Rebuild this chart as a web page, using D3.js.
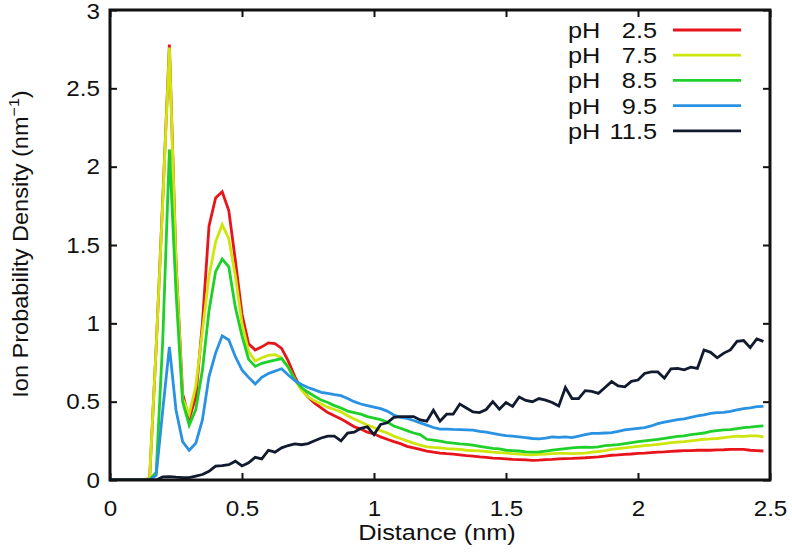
<!DOCTYPE html>
<html>
<head>
<meta charset="utf-8">
<script src="https://cdn.jsdelivr.net/npm/d3@7"></script>
<style>
  html, body { margin: 0; padding: 0; background: #fff; }
  svg { display: block; }
  text { font-family: "Liberation Sans", Arial, Helvetica, sans-serif; fill: #111; }
</style>
</head>
<body>
<svg id="chart" width="792" height="559"></svg>
<script>
// ---------------- data ----------------
const seriesNames = ["2.5", "7.5", "8.5", "9.5", "11.5"];
const seriesColors = ["#e8141c", "#cfe60c", "#1fcf2a", "#2a92e2", "#111a2e"];
const xTicks = [0, 0.5, 1, 1.5, 2, 2.5];
const yTicks = [0, 0.5, 1, 1.5, 2, 2.5, 3];
const xTickLabels = ["0", "0.5", "1", "1.5", "2", "2.5"];
const yTickLabels = ["0", "0.5", "1", "1.5", "2", "2.5", "3"];
const binWidth = 0.025;
const distance = d3.range(100).map(i => i * binWidth); // sampling grid, nm

const pH2_5 = [
  0, 0, 0, 0, 0, 0, 0.01, 0.85, 1.8, 2.78,
  1.4, 0.55, 0.39, 0.53, 1.0, 1.62, 1.8, 1.84, 1.72, 1.4,
  1.06, 0.87, 0.83, 0.85, 0.875, 0.87, 0.84, 0.76, 0.66, 0.58,
  0.53, 0.49, 0.46, 0.43, 0.41, 0.39, 0.365, 0.34, 0.325, 0.305,
  0.295, 0.275, 0.26, 0.245, 0.232, 0.215, 0.205, 0.195, 0.185, 0.178,
  0.172, 0.168, 0.165, 0.16, 0.155, 0.152, 0.148, 0.145, 0.14, 0.138,
  0.135, 0.132, 0.13, 0.128, 0.125, 0.127, 0.13, 0.132, 0.135, 0.137,
  0.138, 0.14, 0.142, 0.145, 0.148, 0.152, 0.158, 0.16, 0.163, 0.166,
  0.17, 0.172, 0.175, 0.178, 0.18, 0.183, 0.185, 0.187, 0.188, 0.19,
  0.19, 0.19, 0.192, 0.193, 0.195, 0.196, 0.195, 0.19, 0.188, 0.185
];
const pH7_5 = [
  0, 0, 0, 0, 0, 0, 0.01, 0.85, 1.78, 2.76,
  1.38, 0.52, 0.42, 0.6, 0.95, 1.3, 1.52, 1.63, 1.54, 1.3,
  1.0, 0.82, 0.76, 0.78, 0.795, 0.8, 0.78, 0.72, 0.64, 0.575,
  0.53, 0.505, 0.485, 0.465, 0.45, 0.435, 0.41, 0.39, 0.37, 0.35,
  0.335, 0.315, 0.3, 0.28, 0.265, 0.25, 0.235, 0.222, 0.212, 0.208,
  0.205, 0.2, 0.198, 0.195, 0.19, 0.188, 0.186, 0.182, 0.178, 0.175,
  0.172, 0.168, 0.165, 0.162, 0.16, 0.163, 0.165, 0.168, 0.17, 0.17,
  0.168, 0.17, 0.172, 0.178, 0.182, 0.188, 0.195, 0.2, 0.205, 0.21,
  0.215, 0.22, 0.222, 0.228, 0.232, 0.238, 0.242, 0.245, 0.25, 0.255,
  0.26, 0.262, 0.265, 0.27, 0.275, 0.28, 0.278, 0.282, 0.282, 0.275
];
const pH8_5 = [
  0, 0, 0, 0, 0, 0, 0, 0.05, 0.9, 2.11,
  1.2, 0.5, 0.35, 0.45, 0.7, 1.08, 1.33, 1.41, 1.36, 1.1,
  0.92, 0.77, 0.725, 0.745, 0.755, 0.765, 0.775, 0.72, 0.64, 0.59,
  0.56, 0.535, 0.51, 0.495, 0.475, 0.46, 0.44, 0.43, 0.42, 0.405,
  0.395, 0.385, 0.37, 0.345, 0.33, 0.315, 0.3, 0.29, 0.26, 0.255,
  0.248, 0.24, 0.235, 0.23, 0.228, 0.222, 0.215, 0.208, 0.202, 0.198,
  0.19, 0.188, 0.185, 0.18, 0.178, 0.18, 0.185, 0.19, 0.195, 0.2,
  0.205, 0.208, 0.21, 0.208, 0.212, 0.22, 0.222, 0.226, 0.232, 0.238,
  0.245, 0.25, 0.255, 0.26, 0.265, 0.272, 0.278, 0.282, 0.29, 0.295,
  0.3, 0.31, 0.315, 0.32, 0.322, 0.328, 0.335, 0.338, 0.342, 0.345
];
const pH9_5 = [
  0, 0, 0, 0, 0, 0, 0, 0.03, 0.45, 0.85,
  0.447, 0.245, 0.19, 0.234, 0.383, 0.66, 0.81, 0.92, 0.894, 0.787,
  0.702, 0.655, 0.613, 0.655, 0.68, 0.695, 0.71, 0.67, 0.635, 0.61,
  0.59, 0.575, 0.56, 0.553, 0.545, 0.538, 0.52, 0.5, 0.485, 0.475,
  0.465, 0.455, 0.44, 0.415, 0.4, 0.393, 0.38, 0.365, 0.35, 0.335,
  0.325, 0.325, 0.323, 0.322, 0.32, 0.318, 0.31, 0.305, 0.298, 0.29,
  0.283, 0.28, 0.275, 0.27, 0.265, 0.262, 0.268, 0.275, 0.272, 0.275,
  0.27, 0.28, 0.29, 0.298, 0.298, 0.3, 0.302, 0.31, 0.32, 0.325,
  0.33, 0.335, 0.345, 0.36, 0.37, 0.378, 0.385, 0.39, 0.4, 0.41,
  0.415, 0.425, 0.43, 0.432, 0.438, 0.448, 0.455, 0.46, 0.468, 0.47
];
const pH11_5 = [
  0, 0, 0, 0, 0, 0, 0, 0, 0.02, 0.022,
  0.018, 0.015, 0.015, 0.025, 0.035, 0.055, 0.088, 0.092, 0.098, 0.12,
  0.09, 0.11, 0.145, 0.135, 0.19, 0.178, 0.205, 0.22, 0.23, 0.225,
  0.232, 0.25, 0.268, 0.28, 0.28, 0.25, 0.3, 0.305, 0.33, 0.34,
  0.29, 0.355, 0.365, 0.4, 0.405, 0.405, 0.405, 0.383, 0.375, 0.445,
  0.375, 0.42, 0.42, 0.485, 0.46, 0.435, 0.43, 0.45, 0.5, 0.452,
  0.494, 0.47, 0.53, 0.508, 0.5, 0.52, 0.51, 0.495, 0.472, 0.59,
  0.52, 0.52, 0.57, 0.565, 0.553, 0.59, 0.628, 0.6, 0.595, 0.63,
  0.638, 0.68, 0.69, 0.69, 0.65, 0.71, 0.713, 0.703, 0.72, 0.712,
  0.83, 0.815, 0.78, 0.81, 0.83, 0.885, 0.89, 0.845, 0.9, 0.885
];
const seriesValues = [pH2_5, pH7_5, pH8_5, pH9_5, pH11_5];

// ---------------- layout ----------------
const svg = d3.select("#chart");
const plot = { left: 110, right: 770, top: 10, bottom: 480 };
const x = d3.scaleLinear().domain([0, 2.5]).range([plot.left, plot.right]);
const y = d3.scaleLinear().domain([0, 3]).range([plot.bottom, plot.top]);
const fontSize = 22;
const stretch = 1.15;
const tickLen = 7;

// ---------------- lines ----------------
const line = d3.line().x((d, i) => x(distance[i])).y(d => y(d));
svg.append("clipPath").attr("id", "clip")
  .append("rect").attr("x", plot.left).attr("y", plot.top)
  .attr("width", plot.right - plot.left).attr("height", plot.bottom - plot.top);
svg.append("g").attr("clip-path", "url(#clip)")
  .selectAll("path").data(seriesValues).join("path")
  .attr("d", d => line(d))
  .attr("fill", "none")
  .attr("stroke", (d, i) => seriesColors[i])
  .attr("stroke-width", 2.8)
  .attr("stroke-linejoin", "miter");

// ---------------- axes ----------------
const xAxisB = d3.axisBottom(x).tickValues(xTicks).tickSizeInner(-tickLen).tickSizeOuter(0)
  .tickFormat((d, i) => xTickLabels[i]).tickPadding(20);
const xAxisT = d3.axisTop(x).tickValues(xTicks).tickSizeInner(-tickLen).tickSizeOuter(0).tickFormat("");
const yAxisL = d3.axisLeft(y).tickValues(yTicks).tickSizeInner(-tickLen).tickSizeOuter(0)
  .tickFormat((d, i) => yTickLabels[i]).tickPadding(10);
const yAxisR = d3.axisRight(y).tickValues(yTicks).tickSizeInner(-tickLen).tickSizeOuter(0).tickFormat("");

function styleAxis(g) {
  g.select(".domain").remove();
  g.selectAll(".tick line").attr("stroke", "#111").attr("stroke-width", 2);
  g.selectAll(".tick text").attr("font-size", fontSize).attr("fill", "#111")
    .style("font-family", '"Liberation Sans", Arial, sans-serif');
}
svg.append("g").attr("transform", `translate(0,${plot.bottom})`).call(xAxisB).call(styleAxis);
svg.append("g").attr("transform", `translate(0,${plot.top})`).call(xAxisT).call(styleAxis);
const yAxisG = svg.append("g").attr("transform", `translate(${plot.left},0)`).call(yAxisL).call(styleAxis);
svg.append("g").attr("transform", `translate(${plot.right},0)`).call(yAxisR).call(styleAxis);
// keep the top label inside the picture
yAxisG.selectAll(".tick text").filter(d => d === 3).attr("dy", "0.4em");

// frame
svg.append("rect")
  .attr("x", plot.left).attr("y", plot.top)
  .attr("width", plot.right - plot.left).attr("height", plot.bottom - plot.top)
  .attr("fill", "none").attr("stroke", "#111").attr("stroke-width", 3);

// axis titles
svg.append("text").attr("class", "stretch")
  .attr("x", (plot.left + plot.right) / 2 - 3).attr("y", 540)
  .attr("text-anchor", "middle").attr("font-size", fontSize)
  .text("Distance (nm)");

const yt = svg.append("text").attr("class", "ytitle")
  .attr("transform", `translate(28,${(plot.top + plot.bottom) / 2 - 1}) rotate(-90)`)
  .attr("text-anchor", "middle").attr("font-size", fontSize);
yt.append("tspan").text("Ion Probability Density (nm");
yt.append("tspan").attr("font-size", 15).attr("dy", -9).text("\u22121");
yt.append("tspan").attr("dy", 9).text(")");

// ---------------- legend ----------------
const legendTop = 30, legendStep = 25.2;
const lg = svg.append("g");
seriesNames.forEach((name, i) => {
  const cy = legendTop + i * legendStep;
  lg.append("text").attr("class", "stretch").attr("x", 568).attr("y", cy + 8).attr("font-size", fontSize).text("pH");
  lg.append("text").attr("class", "stretch").attr("x", 657).attr("y", cy + 8).attr("text-anchor", "end")
    .attr("font-size", fontSize).text(name);
  lg.append("line").attr("x1", 673).attr("x2", 741).attr("y1", cy).attr("y2", cy)
    .attr("stroke", seriesColors[i]).attr("stroke-width", 2.8);
});

// horizontal stretch of glyphs to match the reference rendering
function stretchText(sel, k) {
  sel.each(function () {
    const len = this.getComputedTextLength();
    if (len > 0) d3.select(this).attr("textLength", len * k).attr("lengthAdjust", "spacingAndGlyphs");
  });
}
stretchText(svg.selectAll("text.stretch"), stretch);
stretchText(svg.selectAll(".tick text"), 1.1);
stretchText(svg.selectAll("text.ytitle"), 1.07);
</script>
</body>
</html>
